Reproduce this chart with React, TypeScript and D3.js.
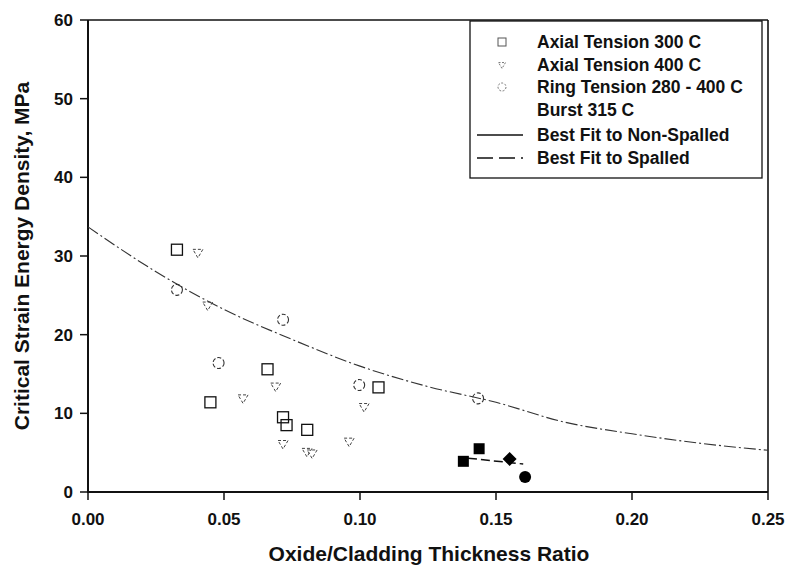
import React from "react";
import * as d3 from "d3";

// ---- Data ----
const xTicks = [0, 0.05, 0.1, 0.15, 0.2, 0.25];
const yTicks = [0, 10, 20, 30, 40, 50, 60];

const axial300X = [0.0327, 0.066, 0.045, 0.0717, 0.073, 0.0806, 0.1068];
const axial300Y = [30.8, 15.6, 11.4, 9.5, 8.5, 7.9, 13.3];

const axial400X = [0.0404, 0.044, 0.069, 0.057, 0.0717, 0.0805, 0.0824, 0.096, 0.1015];
const axial400Y = [30.4, 23.7, 13.4, 11.9, 6.1, 5.1, 4.9, 6.4, 10.8];

const ringX = [0.0327, 0.0717, 0.048, 0.0997, 0.1434];
const ringY = [25.7, 21.9, 16.4, 13.6, 11.9];

const burstX = [0.138, 0.1438, 0.155, 0.1607];
const burstY = [3.9, 5.5, 4.2, 1.9];
const burstShape = ["square", "square", "diamond", "circle"];

const fitX = [0, 0.025, 0.05, 0.075, 0.1, 0.125, 0.15, 0.175, 0.2, 0.225, 0.25];
const fitY = [33.7, 28.0, 23.2, 19.4, 16.0, 13.4, 11.4, 8.9, 7.4, 6.2, 5.3];

const spalledFitX = [0.1397, 0.160];
const spalledFitY = [4.3, 3.56];

const legendLabels = [
  "Axial Tension 300 C",
  "Axial Tension 400 C",
  "Ring Tension 280 - 400 C",
  "Burst 315 C",
  "Best Fit to Non-Spalled",
  "Best Fit to Spalled",
];

const FONT = "'Liberation Sans', Arial, sans-serif";

export default function App() {
  const W = 790, H = 572;
  const x = d3.scaleLinear().domain([0, 0.25]).range([88, 768]);
  const y = d3.scaleLinear().domain([0, 60]).range([492, 20]);

  const fitLine = d3
    .line<number>()
    .x((_, i) => x(fitX[i]))
    .y((_, i) => y(fitY[i]))
    .curve(d3.curveMonotoneX)(fitX as any) as string;

  const spalledLine = d3
    .line<number>()
    .x((_, i) => x(spalledFitX[i]))
    .y((_, i) => y(spalledFitY[i]))(spalledFitX as any) as string;

  const tri = (cx: number, cy: number, s: number) =>
    `M${cx - s},${cy - s * 0.7}L${cx + s},${cy - s * 0.7}L${cx},${cy + s}Z`;

  const legRows = [42, 65, 87, 110, 135, 158];

  return (
    <svg
      width={W}
      height={H}
      style={{ position: "absolute", left: 0, top: 0, background: "#fff" }}
      fontFamily={FONT}
    >
      <rect x={0} y={0} width={W} height={H} fill="#fff" />

      {/* frame */}
      <line x1={x(0)} x2={x(0.25)} y1={y(60)} y2={y(60)} stroke="#111" strokeWidth={1.6} />
      <line x1={x(0.25)} x2={x(0.25)} y1={y(60)} y2={y(0)} stroke="#111" strokeWidth={1.6} />
      <line x1={x(0)} x2={x(0)} y1={y(60)} y2={y(0)} stroke="#111" strokeWidth={2} />
      <line x1={x(0) - 1} x2={x(0.25)} y1={y(0)} y2={y(0)} stroke="#111" strokeWidth={2.2} />

      {/* y ticks */}
      {yTicks.map((t) => (
        <g key={"y" + t}>
          <line x1={x(0) - 8} x2={x(0)} y1={y(t)} y2={y(t)} stroke="#111" strokeWidth={1.5} />
          <text
            x={73}
            y={y(t)}
            dy="0.36em"
            textAnchor="end"
            fontSize={17}
            fontWeight="bold"
            fill="#111"
          >
            {t}
          </text>
        </g>
      ))}

      {/* x ticks */}
      {xTicks.map((t) => (
        <g key={"x" + t}>
          <line x1={x(t)} x2={x(t)} y1={y(0)} y2={y(0) + 8} stroke="#111" strokeWidth={1.5} />
          <text
            x={x(t)}
            y={525}
            textAnchor="middle"
            fontSize={17}
            fontWeight="bold"
            fill="#111"
          >
            {t.toFixed(2)}
          </text>
        </g>
      ))}

      {/* axis titles */}
      <text
        x={429}
        y={561}
        textAnchor="middle"
        fontSize={21}
        fontWeight="bold"
        fill="#111"
      >
        Oxide/Cladding Thickness Ratio
      </text>
      <text
        transform={`translate(29,256) rotate(-90)`}
        textAnchor="middle"
        fontSize={21}
        fontWeight="bold"
        fill="#111"
      >
        Critical Strain Energy Density, MPa
      </text>

      {/* fit lines */}
      <path d={fitLine} fill="none" stroke="#333" strokeWidth={1.1} strokeDasharray="12 3 2 3" />
      <path d={spalledLine} fill="none" stroke="#111" strokeWidth={1.5} strokeDasharray="9 4" />

      {/* axial tension 300 C: open squares */}
      {axial300X.map((v, i) => (
        <rect
          key={"a3" + i}
          x={x(v) - 5.5}
          y={y(axial300Y[i]) - 5.5}
          width={11}
          height={11}
          fill="none"
          stroke="#111"
          strokeWidth={1.3}
        />
      ))}

      {/* axial tension 400 C: open down triangles */}
      {axial400X.map((v, i) => (
        <path
          key={"a4" + i}
          d={tri(x(v), y(axial400Y[i]), 5)}
          fill="none"
          stroke="#444"
          strokeWidth={1}
          strokeDasharray="3 2"
        />
      ))}

      {/* ring tension: open circles */}
      {ringX.map((v, i) => (
        <circle
          key={"r" + i}
          cx={x(v)}
          cy={y(ringY[i])}
          r={5.5}
          fill="none"
          stroke="#333"
          strokeWidth={1.1}
          strokeDasharray="4 2"
        />
      ))}

      {/* burst / spalled: filled symbols */}
      {burstX.map((v, i) => {
        const cx = x(v), cy = y(burstY[i]);
        const s = burstShape[i];
        if (s === "square")
          return <rect key={"b" + i} x={cx - 5.5} y={cy - 5.5} width={11} height={11} fill="#000" />;
        if (s === "diamond")
          return (
            <path key={"b" + i} d={`M${cx},${cy - 7}L${cx + 7},${cy}L${cx},${cy + 7}L${cx - 7},${cy}Z`} fill="#000" />
          );
        return <circle key={"b" + i} cx={cx} cy={cy} r={6} fill="#000" />;
      })}

      {/* legend */}
      <rect x={470} y={21} width={292} height={157} fill="#fff" stroke="#111" strokeWidth={1.3} />
      <rect x={498} y={38} width={8} height={8} fill="none" stroke="#555" strokeWidth={1} />
      <path d={tri(502, 65, 3.5)} fill="none" stroke="#777" strokeWidth={1} strokeDasharray="2 1.5" />
      <circle cx={502} cy={87} r={4} fill="none" stroke="#777" strokeWidth={1} strokeDasharray="2 1.5" />
      <line x1={477} x2={523} y1={135} y2={135} stroke="#111" strokeWidth={1.3} />
      <line x1={477} x2={523} y1={158} y2={158} stroke="#111" strokeWidth={1.3} strokeDasharray="16 6" />
      {legendLabels.map((l, i) => (
        <text
          key={l}
          x={537}
          y={legRows[i]}
          dy="0.36em"
          fontSize={17.5}
          fontWeight="bold"
          fill="#111"
        >
          {l}
        </text>
      ))}
    </svg>
  );
}
